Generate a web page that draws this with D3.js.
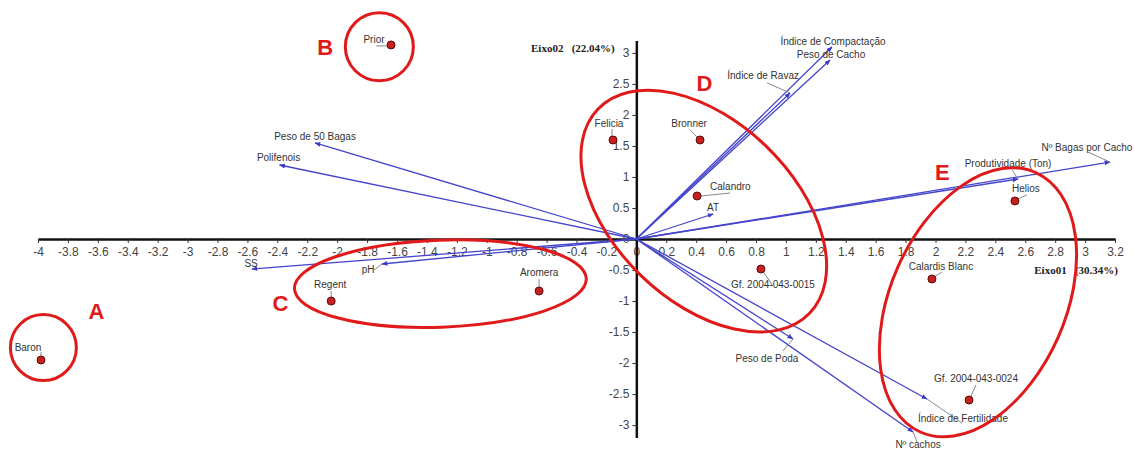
<!DOCTYPE html>
<html>
<head>
<meta charset="utf-8">
<script src="https://cdn.jsdelivr.net/npm/d3@7"></script>
<style>
  body { margin: 0; background: #fff; }
  text { font-family: "Liberation Sans", Arial, sans-serif; }
</style>
</head>
<body>
<div id="chart-area"></div>
<script>
// cultivars (scores on Eixo01 / Eixo02)
const cultivars = ["Prior", "Baron", "Regent", "Aromera", "Felicia", "Bronner", "Calandro",
    "Gf. 2004-043-0015", "Calardis Blanc", "Helios", "Gf. 2004-043-0024"]
const cultX = [-1.64, -3.98, -2.04, -0.65, -0.156, 0.426, 0.406, 0.833, 1.976, 2.531, 2.224]
const cultY = [3.128, -1.951, -1.0, -0.838, 1.596, 1.596, 0.693, -0.484, -0.645, 0.613, -2.596]

// variables (loadings drawn as vectors)
const variables = ["Índice de Compactação", "Peso de Cacho", "Índice de Ravaz", "Nº Bagas por Cacho",
    "Produtividade (Ton)", "AT", "Peso de 50 Bagas", "Polifenois", "SS", "pH",
    "Peso de Poda", "Índice de Fertilidade", "Nº cachos"]
const varX = [1.308, 1.295, 1.028, 3.166, 2.552, 0.513, -2.148, -2.385, -2.569, -1.70, 1.047, 1.943, 1.85]
const varY = [3.095, 2.886, 2.354, 1.241, 0.967, 0.403, 1.548, 1.193, -0.484, -0.403, -1.612, -2.579, -3.111]

// axis ticks and titles
const xTicks = d3.range(-40, 33, 2).map(d => d / 10)
const yTicks = d3.range(-6, 7, 1).map(d => d / 2)
const xTitle = ["Eixo01", "(30.34%)"]
const yTitle = ["Eixo02", "(22.04%)"]

// groups marked by hand on the figure
const groups = ["A", "B", "C", "D", "E"]
const groupX = [-3.964, -1.718, -1.31, 0.451, 2.284]
const groupY = [-1.75, 3.10, -0.72, 0.45, -1.02]
const letterX = [-3.61, -2.08, -2.38, 0.455, 2.045]
const letterY = [-1.16, 3.10, -1.03, 2.52, 1.08]

// label placement (pixel offsets from the mark): text dx,dy, anchor, leader from l1 to l2
const cultLabels = {
    "Prior": [-17, -2, "middle", [-15, 1, -4, 1]],
    "Baron": [-13, -9, "middle", [0, -8, 0, -3]],
    "Regent": [-1, -13, "middle", [0, -10, 0, -4]],
    "Aromera": [0, -15, "middle", [0, -12, 0, -4]],
    "Felicia": [-4, -13, "middle", [-1, -11, -1, -4]],
    "Bronner": [-11, -13, "middle", [-10, -10, -3, -3]],
    "Calandro": [13, -6, "start", [4, 0, 33, -3]],
    "Gf. 2004-043-0015": [12, 19, "middle", [2, 2, 12, 17]],
    "Calardis Blanc": [9, -9, "middle", [2, -2, 10, -7]],
    "Helios": [11, -9, "middle", [3, -2, 12, -6]],
    "Gf. 2004-043-0024": [7, -18, "middle", [7, -15, 2, -4]]
}
const varLabels = {
    "Índice de Compactação": [1, -2, "middle", null],
    "Peso de Cacho": [1, -2, "middle", null],
    "Índice de Ravaz": [-27, -14, "middle", [-23, -10, 0, 0]],
    "Nº Bagas por Cacho": [-23, -11, "middle", [-22, -10, 0, 0]],
    "Produtividade (Ton)": [-10, -12, "middle", [-6, -9, 0, 0]],
    "AT": [0, -3, "middle", null],
    "Peso de 50 Bagas": [0, -3, "middle", null],
    "Polifenois": [-1, -4, "middle", null],
    "SS": [-1, -2, "middle", null],
    "pH": [-14, 9, "middle", [-8, 6, 0, 0]],
    "Peso de Poda": [-26, 23, "middle", [-10, 12, 0, 0]],
    "Índice de Fertilidade": [36, 23, "middle", [35, 24, 0, 0]],
    "Nº cachos": [5, 16, "middle", [4, 10, 0, 0]]
}
// ellipse shapes in pixels: rx, ry, rotation
const groupShape = [[33, 33, 0], [34, 34, 0], [146, 43.5, -2], [147, 90, 44], [87.5, 142, 24]]

const width = 1134, height = 450
const svg = d3.select("#chart-area").append("svg")
    .attr("width", width)
    .attr("height", height)

const x = d3.scaleLinear().domain([-4, 3.2]).range([38, 1115])
const y = d3.scaleLinear().domain([-3.2, 3.2]).range([437.5, 40.5])

const fmt = d => String(+d.toFixed(1))

// axes crossing at the origin
const xAxis = svg.append("g")
    .attr("transform", `translate(0,${y(0)})`)
    .call(d3.axisBottom(x).tickValues(xTicks).tickFormat(fmt).tickSize(4).tickSizeOuter(0).tickPadding(4))
const yAxis = svg.append("g")
    .attr("transform", `translate(${x(0)},0)`)
    .call(d3.axisLeft(y).tickValues(yTicks).tickFormat(fmt).tickSize(4).tickSizeOuter(0).tickPadding(3))

;[xAxis, yAxis].forEach(g => {
    g.select(".domain").attr("stroke", "#111").attr("stroke-width", 2.5)
    g.selectAll(".tick line").attr("stroke", "#333").attr("stroke-width", 1)
    g.selectAll(".tick text").attr("fill", "#444")
        .style("font-family", "'Liberation Sans', Arial, sans-serif").style("font-size", "12px")
})

// axis titles
svg.append("text").attr("x", 531).attr("y", 52)
    .style("font-family", "'Liberation Serif', serif").style("font-weight", "bold").style("font-size", "11px")
    .attr("fill", "#222").text(yTitle[0] + "\u00a0\u00a0\u00a0" + yTitle[1])
svg.append("text").attr("x", 1118).attr("y", 274).attr("text-anchor", "end")
    .style("font-family", "'Liberation Serif', serif").style("font-weight", "bold").style("font-size", "11px")
    .attr("fill", "#222").text(xTitle[0] + "\u00a0\u00a0\u00a0" + xTitle[1])

// arrow marker
svg.append("defs").append("marker")
    .attr("id", "arrow")
    .attr("viewBox", "0 0 10 10")
    .attr("refX", 9).attr("refY", 5)
    .attr("markerWidth", 6).attr("markerHeight", 6)
    .attr("markerUnits", "userSpaceOnUse")
    .attr("orient", "auto")
    .append("path").attr("d", "M0,1 L10,5 L0,9 Z").attr("fill", "#3a3ac8")

const vars = variables.map((name, i) => ({name, x: varX[i], y: varY[i]}))
const cults = cultivars.map((name, i) => ({name, x: cultX[i], y: cultY[i]}))

// vectors
svg.append("g").selectAll("line")
    .data(vars)
    .enter().append("line")
    .attr("x1", x(0)).attr("y1", y(0))
    .attr("x2", d => x(d.x)).attr("y2", d => y(d.y))
    .attr("stroke", "#4444cc")
    .attr("stroke-width", 1.3)
    .attr("marker-end", "url(#arrow)")

// leader lines (gray)
const leaders = []
vars.forEach(d => { const l = varLabels[d.name][3]; if (l) leaders.push({px: x(d.x), py: y(d.y), l}) })
cults.forEach(d => { const l = cultLabels[d.name][3]; if (l) leaders.push({px: x(d.x), py: y(d.y), l}) })
svg.append("g").selectAll("line")
    .data(leaders)
    .enter().append("line")
    .attr("x1", d => d.px + d.l[0]).attr("y1", d => d.py + d.l[1])
    .attr("x2", d => d.px + d.l[2]).attr("y2", d => d.py + d.l[3])
    .attr("stroke", "#888")
    .attr("stroke-width", 1)

// cultivar points
svg.append("g").selectAll("circle")
    .data(cults)
    .enter().append("circle")
    .attr("cx", d => x(d.x)).attr("cy", d => y(d.y))
    .attr("r", 4)
    .attr("fill", "#c8201e")
    .attr("stroke", "#5a0b0b")
    .attr("stroke-width", 1)

// labels
const labelStyle = sel => sel
    .style("font-size", "10px")
    .attr("fill", "#333")
svg.append("g").selectAll("text")
    .data(vars)
    .enter().append("text")
    .attr("x", d => x(d.x) + varLabels[d.name][0])
    .attr("y", d => y(d.y) + varLabels[d.name][1])
    .attr("text-anchor", d => varLabels[d.name][2])
    .text(d => d.name)
    .call(labelStyle)
svg.append("g").selectAll("text")
    .data(cults)
    .enter().append("text")
    .attr("x", d => x(d.x) + cultLabels[d.name][0])
    .attr("y", d => y(d.y) + cultLabels[d.name][1])
    .attr("text-anchor", d => cultLabels[d.name][2])
    .text(d => d.name)
    .call(labelStyle)

// red group ellipses and letters
svg.append("g").selectAll("ellipse")
    .data(groups)
    .enter().append("ellipse")
    .attr("transform", (d, i) => `translate(${x(groupX[i])},${y(groupY[i])}) rotate(${groupShape[i][2]})`)
    .attr("rx", (d, i) => groupShape[i][0])
    .attr("ry", (d, i) => groupShape[i][1])
    .attr("fill", "none")
    .attr("stroke", "#e01a1a")
    .attr("stroke-width", 3)
svg.append("g").selectAll("text")
    .data(groups)
    .enter().append("text")
    .attr("x", (d, i) => x(letterX[i]))
    .attr("y", (d, i) => y(letterY[i]))
    .attr("text-anchor", "middle")
    .attr("dy", "0.36em")
    .style("font-size", "22px")
    .style("font-weight", "bold")
    .attr("fill", "#e01a1a")
    .text(d => d)
</script>
</body>
</html>
